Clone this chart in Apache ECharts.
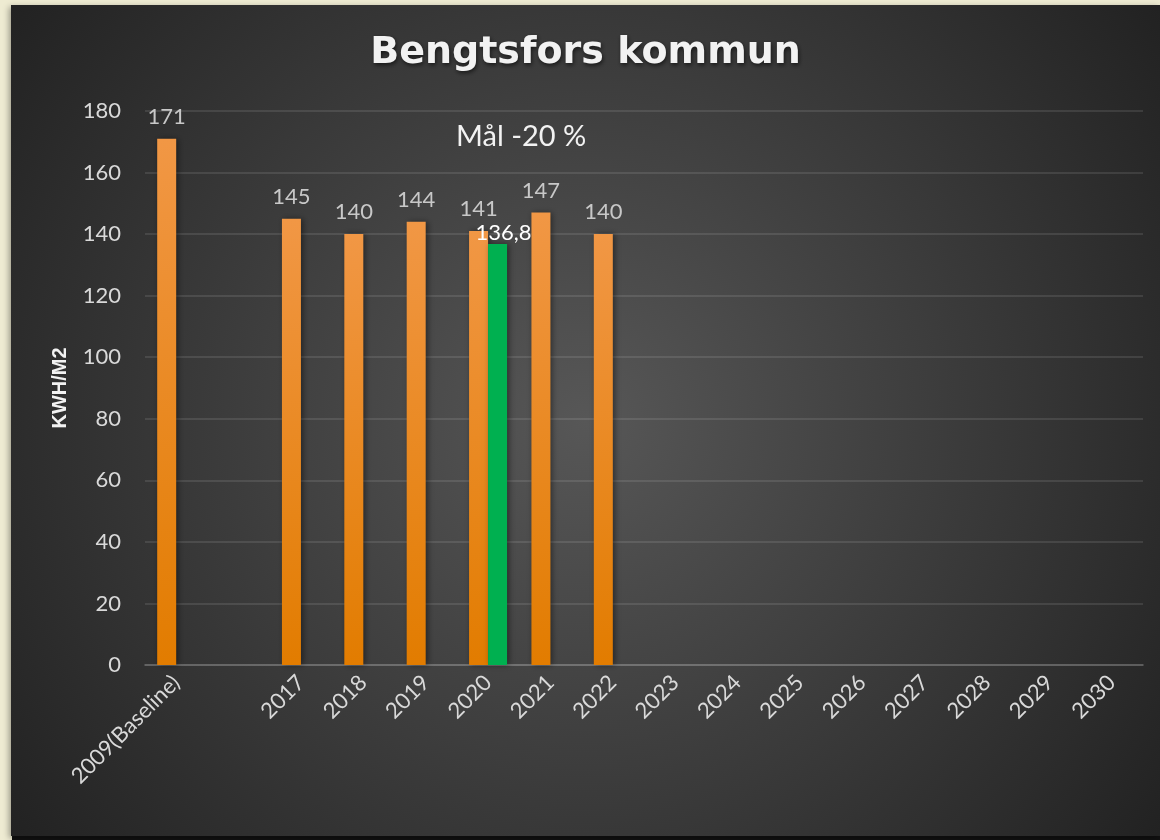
<!DOCTYPE html>
<html>
<head>
<meta charset="utf-8">
<script src="https://cdn.jsdelivr.net/npm/echarts@6/dist/echarts.min.js"></script>
<style>
  html, body { margin: 0; padding: 0; }
  body { width: 1160px; height: 840px; background: #eeebd2; position: relative; overflow: hidden; }
  #edge { position: absolute; left: 12px; top: 836px; width: 1148px; height: 4px; background: #111; }
  #myChart { position: absolute; left: 11px; top: 5px; width: 1149px; height: 831px; box-shadow: -2px 2px 6px rgba(0,0,0,0.35); }
</style>
</head>
<body>
<div id="edge"></div>
<div id="myChart"></div>
<script>
// kategorier och värden
var years = ['2009(Baseline)', '', '2017', '2018', '2019', '2020', '2021', '2022',
             '2023', '2024', '2025', '2026', '2027', '2028', '2029', '2030'];
var utfall = [171, null, 145, 140, 144, 141, 147, 140, null, null, null, null, null, null, null, null];
var mal = [null, null, null, null, null, 136.8, null, null, null, null, null, null, null, null, null, null];
var yTicks = { min: 0, max: 180, interval: 20 };

var myChart = echarts.init(document.getElementById('myChart'));

var barFont = 'Lato';

myChart.setOption({
    backgroundColor: {
        type: 'radial', x: 0.5, y: 0.5, r: 0.85,
        colorStops: [
            { offset: 0, color: '#575757' },
            { offset: 1, color: '#222222' }
        ]
    },
    title: [
        {
            text: 'Bengtsfors kommun',
            left: 'center',
            top: 24,
            textStyle: {
                fontFamily: 'DejaVu Sans',
                fontWeight: 'bold',
                fontSize: 38,
                color: '#f2f2f2',
                textShadowColor: 'rgba(0,0,0,0.6)',
                textShadowBlur: 4,
                textShadowOffsetX: 1,
                textShadowOffsetY: 2
            }
        },
        {
            text: 'Mål -20 %',
            left: 440,
            top: 112,
            textStyle: {
                fontFamily: barFont,
                fontWeight: 'normal',
                fontSize: 29,
                color: '#f2f2f2'
            }
        }
    ],
    grid: {
        left: 134,
        right: 17,
        top: 106,
        bottom: 171
    },
    xAxis: {
        type: 'category',
        data: years,
        axisLine: { lineStyle: { color: 'rgba(255,255,255,0.16)', width: 2 } },
        axisTick: { show: false },
        axisLabel: {
            rotate: 45,
            interval: 0,
            margin: 14,
            fontFamily: barFont,
            fontSize: 22,
            color: '#d9d9d9'
        }
    },
    yAxis: {
        type: 'value',
        min: yTicks.min,
        max: yTicks.max,
        interval: yTicks.interval,
        name: 'KWH/M2',
        nameLocation: 'middle',
        nameGap: 75,
        nameTextStyle: {
            fontFamily: 'Liberation Sans',
            fontWeight: 'bold',
            fontSize: 20,
            color: '#f2f2f2'
        },
        axisLine: { show: false },
        axisTick: { show: false },
        axisLabel: {
            margin: 24,
            fontFamily: barFont,
            fontSize: 22,
            color: '#d9d9d9'
        },
        splitLine: { lineStyle: { color: 'rgba(255,255,255,0.1)', width: 2 } }
    },
    series: [
        {
            name: 'Utfall',
            type: 'bar',
            data: utfall,
            barWidth: 19,
            barGap: '0%',
            itemStyle: {
                color: {
                    type: 'linear', x: 0, y: 0, x2: 0, y2: 1,
                    colorStops: [
                        { offset: 0, color: '#f19745' },
                        { offset: 1, color: '#e27c00' }
                    ]
                },
                shadowColor: 'rgba(0,0,0,0.45)',
                shadowBlur: 6,
                shadowOffsetX: 2
            },
            label: {
                show: true,
                position: 'top',
                distance: 11,
                fontFamily: barFont,
                fontSize: 22,
                color: '#c8c8c8'
            }
        },
        {
            name: 'Mål',
            type: 'bar',
            data: mal,
            barWidth: 19,
            itemStyle: {
                color: '#00b050',
                shadowColor: 'rgba(0,0,0,0.45)',
                shadowBlur: 6,
                shadowOffsetX: 2
            },
            label: {
                show: true,
                position: 'top',
                distance: 0,
                offset: [6, 0],
                fontFamily: barFont,
                fontSize: 22,
                color: '#ffffff',
                formatter: function (p) { return String(p.value).replace('.', ','); }
            }
        }
    ]
});
</script>
</body>
</html>
